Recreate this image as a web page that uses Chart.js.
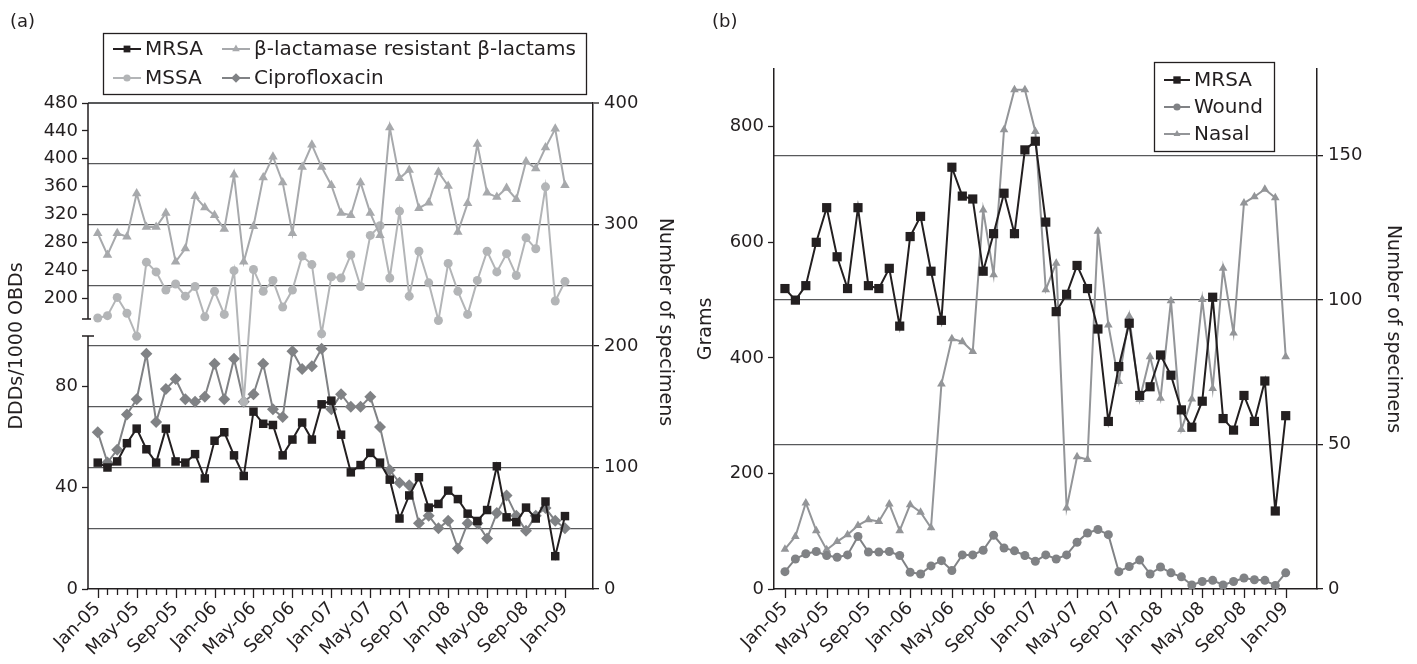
<!DOCTYPE html>
<html><head><meta charset="utf-8">
<script src="https://cdn.jsdelivr.net/npm/chart.js@4.4.1/dist/chart.umd.min.js"></script>
<style>
html,body{margin:0;padding:0;background:#fff;width:1417px;height:664px;overflow:hidden}
#ca{position:absolute;left:0;top:0}
#cb{position:absolute;left:692px;top:0}
</style></head><body>
<canvas id="ca" width="692" height="664"></canvas>
<canvas id="cb" width="725" height="664"></canvas>
<script>
// ---------- data ----------
const months = ['Jan-05','Feb-05','Mar-05','Apr-05','May-05','Jun-05','Jul-05','Aug-05','Sep-05','Oct-05','Nov-05','Dec-05',
  'Jan-06','Feb-06','Mar-06','Apr-06','May-06','Jun-06','Jul-06','Aug-06','Sep-06','Oct-06','Nov-06','Dec-06',
  'Jan-07','Feb-07','Mar-07','Apr-07','May-07','Jun-07','Jul-07','Aug-07','Sep-07','Oct-07','Nov-07','Dec-07',
  'Jan-08','Feb-08','Mar-08','Apr-08','May-08','Jun-08','Jul-08','Aug-08','Sep-08','Oct-08','Nov-08','Dec-08',
  'Jan-09'];

// Panel (a) — number of specimens (right axis)
const mrsa = [104,100,105,120,132,115,104,132,105,104,111,91,122,129,110,93,146,136,135,110,123,137,123,152,155,127,96,102,112,104,90,58,77,92,67,70,81,74,62,56,65,101,59,55,67,58,72,27,60];
const mssa = [223,225,240,227,208,269,261,246,251,241,249,224,245,226,262,154,263,245,254,232,246,274,267,210,257,256,275,249,291,299,256,311,241,278,252,221,268,245,226,254,278,261,276,258,289,280,331,237,253];
// Panel (a) — DDDs/1000 OBDs (left, broken axis)
const betaLactams = [293,262,293,288,350,302,302,322,252,271,346,330,319,299,377,252,303,373,403,366,293,388,420,388,362,322,319,366,322,290,445,372,384,329,337,381,361,295,336,421,351,345,358,342,396,386,416,443,362];
const ciprofloxacin = [62,50,55,69,75,93,66,79,83,75,74,76,89,75,91,74,77,89,71,68,94,87,88,95,71,77,72,72,76,64,47,42,41,26,29,24,27,16,26,26,20,30,37,29,23,29,32,27,24];
// Panel (b) — grams (left axis)
const wound = [30,52,61,65,58,55,59,91,64,64,65,58,29,26,40,49,32,59,59,67,93,71,66,58,48,59,52,59,81,97,103,94,30,39,50,26,38,28,21,7,13,15,7,13,19,16,15,6,28];
const nasal = [69,91,149,101,68,82,94,110,120,117,147,101,146,133,106,355,433,428,411,656,544,795,864,864,792,518,564,140,229,224,619,457,359,472,328,402,330,499,276,329,501,347,555,443,668,679,692,677,402];

// tick labels / axis values
const leftTicksA = [0,40,80,200,240,280,320,360,400,440,480];
const rightTicksA = [0,50,100,150,200,250,300,350,400];
const leftTicksB = [0,200,400,600,800];
const rightTicksB = [0,50,100,150];
// broken axis segments of panel (a): lower 0-100, upper 170-480
const BREAK_LOW_MAX = 100, BREAK_UP_MIN = 170, BREAK_UP_MAX = 480;

// ---------- custom broken linear scale ----------
const INK = '#231f20';
const FONT = "'DejaVu Sans', sans-serif";
Chart.defaults.font.family = FONT;
Chart.defaults.font.size = 18;
Chart.defaults.color = INK;

class BrokenLinearScale extends Chart.LinearScale {
  _geom() {
    const H = this.bottom - this.top;
    const lowH = H * 0.5206, gapH = H * 0.035;
    return {H, lowH, gapH, upH: H - lowH - gapH};
  }
  getPixelForValue(value) {
    const g = this._geom();
    if (value <= BREAK_LOW_MAX) return this.bottom - value / BREAK_LOW_MAX * g.lowH;
    return this.bottom - g.lowH - g.gapH - (value - BREAK_UP_MIN) / (BREAK_UP_MAX - BREAK_UP_MIN) * g.upH;
  }
  getValueForPixel(pixel) {
    const g = this._geom();
    const d = this.bottom - pixel;
    if (d <= g.lowH) return d / g.lowH * BREAK_LOW_MAX;
    return BREAK_UP_MIN + (d - g.lowH - g.gapH) / g.upH * (BREAK_UP_MAX - BREAK_UP_MIN);
  }
}
BrokenLinearScale.id = 'brokenLinear';
BrokenLinearScale.defaults = Chart.LinearScale.defaults;
Chart.register(BrokenLinearScale);

// ---------- plugins ----------
const decor = {
  id: 'decor',
  afterDraw(chart, args, o) {
    const ctx = chart.ctx;
    ctx.save();
    // panel label
    ctx.fillStyle = INK; ctx.font = "18px " + FONT;
    ctx.textBaseline = 'middle'; ctx.textAlign = 'left';
    ctx.fillText(o.panel.text, o.panel.x, o.panel.y);
    // extra rotated axis title (right side, reads top-to-bottom)
    if (o.rightTitle) {
      ctx.save();
      ctx.font = "19px " + FONT; ctx.textAlign = 'center';
      ctx.translate(o.rightTitle.x, o.rightTitle.y);
      ctx.rotate(Math.PI / 2);
      ctx.fillText(o.rightTitle.text, 0, 0);
      ctx.restore();
    }
    // x tick marks
    const sx = chart.scales.x;
    ctx.strokeStyle = INK; ctx.lineWidth = 1.3;
    sx.ticks.forEach(t => {
      const x = Math.round(sx.getPixelForValue(t.value)) + 0.5;
      const len = t.value % 4 === 0 ? 9 : 6;
      ctx.beginPath(); ctx.moveTo(x, sx.top); ctx.lineTo(x, sx.top + len); ctx.stroke();
    });
    // broken left axis
    if (o.broken) {
      const s = chart.scales.y;
      const x = s.right;
      const yTop = s.getPixelForValue(BREAK_UP_MAX);
      const yUpB = s.getPixelForValue(BREAK_UP_MIN);
      const yLowT = s.getPixelForValue(BREAK_LOW_MAX);
      const yBot = s.getPixelForValue(0);
      ctx.lineWidth = 1.5;
      ctx.beginPath();
      ctx.moveTo(x, yTop); ctx.lineTo(x, yUpB);
      ctx.moveTo(x, yLowT); ctx.lineTo(x, yBot);
      ctx.moveTo(x - 6, yUpB); ctx.lineTo(x + 3, yUpB);
      ctx.moveTo(x - 6, yLowT); ctx.lineTo(x + 6, yLowT);
      ctx.stroke();
    }
    // legend box
    const L = o.legend;
    ctx.lineWidth = 1.3; ctx.strokeStyle = INK;
    ctx.strokeRect(L.box[0] + 0.5, L.box[1] + 0.5, L.box[2] - L.box[0], L.box[3] - L.box[1]);
    ctx.font = "20px " + FONT;
    L.items.forEach(it => {
      const ds = chart.data.datasets[it.i];
      ctx.strokeStyle = ds.borderColor; ctx.lineWidth = ds.borderWidth;
      ctx.beginPath(); ctx.moveTo(it.x, it.y); ctx.lineTo(it.x + L.sample, it.y); ctx.stroke();
      ctx.fillStyle = ds.pointBackgroundColor;
      Chart.helpers.drawPoint(ctx, {pointStyle: ds.pointStyle, radius: ds.pointRadius * 0.8, rotation: 0, borderWidth: 0}, it.x + L.sample / 2, it.y);
      ctx.fillStyle = INK;
      ctx.fillText(ds.label, it.x + L.sample + 4, it.y + 1);
    });
    ctx.restore();
  }
};

// ---------- helpers ----------
const pts = arr => arr.map((v, i) => ({x: i, y: v}));
function series(label, arr, axis, color, style, r) {
  return {label, data: pts(arr), yAxisID: axis, borderColor: color, backgroundColor: color,
    pointBackgroundColor: color, pointBorderColor: color, pointStyle: style, pointRadius: r,
    pointBorderWidth: 0, borderWidth: 2, tension: 0, clip: false};
}
function xScale(min, max) {
  return {
    type: 'linear', min, max,
    afterBuildTicks: s => { s.ticks = months.map((m, i) => ({value: i})); },
    afterFit: s => { s.height = 75; },
    grid: {display: true, drawOnChartArea: false, drawTicks: true, tickLength: 9, tickColor: 'rgba(0,0,0,0)'},
    border: {display: true, color: INK, width: 1.5},
    ticks: {autoSkip: false, maxRotation: 45, minRotation: 45, padding: 0, color: INK, font: {size: 18},
      callback: v => (v % 4 === 0 ? months[v] : '')}
  };
}
const gridCol = c => (c.tick && c.tick.value === 0 ? 'rgba(0,0,0,0)' : '#58595b');

// ---------- panel (a) ----------
new Chart(document.getElementById('ca'), {
  type: 'line',
  data: {datasets: [
    series('MRSA', mrsa, 'y1', INK, 'rect', 6),
    series('\u03b2-lactamase resistant \u03b2-lactams', betaLactams, 'y', '#a7a9ac', 'triangle', 5.5),
    series('MSSA', mssa, 'y1', '#b3b5b7', 'circle', 4.5),
    series('Ciprofloxacin', ciprofloxacin, 'y', '#808285', 'rectRot', 6)
  ]},
  options: {
    responsive: false, animation: false, devicePixelRatio: 1,
    layout: {padding: {top: 103, left: 0, right: 13, bottom: 0}},
    plugins: {legend: {display: false}, tooltip: {enabled: false},
      decor: {panel: {text: '(a)', x: 10, y: 22}, broken: true,
        rightTitle: {text: 'Number of specimens', x: 665, y: 322},
        legend: {box: [103, 33, 586, 94], sample: 28,
          items: [{i: 0, x: 113, y: 49}, {i: 1, x: 222, y: 49}, {i: 2, x: 113, y: 78}, {i: 3, x: 222, y: 78}]}}},
    scales: {
      x: xScale(-1, 50.88),
      y: {type: 'brokenLinear', position: 'left', min: 0, max: 480,
        afterBuildTicks: s => { s.ticks = leftTicksA.map(v => ({value: v})); },
        afterFit: s => { s.width = 88; },
        grid: {drawOnChartArea: false, tickLength: 6, tickColor: INK, tickWidth: 1.3},
        border: {display: false},
        ticks: {padding: 4, color: INK},
        title: {display: true, text: 'DDDs/1000 OBDs', padding: {top: 6, bottom: 0}, color: INK, font: {size: 19}}},
      y1: {type: 'linear', position: 'right', min: 0, max: 400,
        afterBuildTicks: s => { s.ticks = rightTicksA.map(v => ({value: v})); },
        afterFit: s => { s.width = 86; },
        grid: {drawOnChartArea: true, color: gridCol, lineWidth: c => (c.tick && c.tick.value === 400 ? 2 : 1.3),
          tickLength: 6, tickWidth: 1.3, tickColor: c => (c.tick.value % 100 === 0 ? INK : 'rgba(0,0,0,0)')},
        border: {display: true, color: INK, width: 1.5},
        ticks: {padding: 5, color: INK, callback: v => (v % 100 === 0 ? v : '')},
        title: {display: false}}
    }
  },
  plugins: [decor]
});

// ---------- panel (b) ----------
new Chart(document.getElementById('cb'), {
  type: 'line',
  data: {datasets: [
    series('MRSA', mrsa, 'y1', INK, 'rect', 6.5),
    series('Wound', wound, 'y', '#808285', 'circle', 4.5),
    series('Nasal', nasal, 'y', '#939598', 'triangle', 5)
  ]},
  options: {
    responsive: false, animation: false, devicePixelRatio: 1,
    layout: {padding: {top: 69, left: 0, right: 10, bottom: 0}},
    plugins: {legend: {display: false}, tooltip: {enabled: false},
      decor: {panel: {text: '(b)', x: 20, y: 22}, broken: false,
        legend: {box: [462, 62, 582, 151], sample: 26,
          items: [{i: 0, x: 472, y: 80}, {i: 1, x: 472, y: 107}, {i: 2, x: 472, y: 134}]}}},
    scales: {
      x: xScale(-1.05, 51),
      y: {type: 'linear', position: 'left', min: 0, max: 900,
        afterBuildTicks: s => { s.ticks = leftTicksB.map(v => ({value: v})); },
        afterFit: s => { s.width = 82; },
        grid: {drawOnChartArea: false, tickLength: 6, tickColor: INK, tickWidth: 1.3},
        border: {display: true, color: INK, width: 1.5},
        ticks: {padding: 4, color: INK},
        title: {display: true, text: 'Grams', padding: {top: 3, bottom: 0}, color: INK, font: {size: 19}}},
      y1: {type: 'linear', position: 'right', min: 0, max: 180,
        afterBuildTicks: s => { s.ticks = rightTicksB.map(v => ({value: v})); },
        afterFit: s => { s.width = 90; },
        grid: {drawOnChartArea: true, color: gridCol, lineWidth: 1.3, tickLength: 6, tickWidth: 1.3, tickColor: INK},
        border: {display: true, color: INK, width: 1.5},
        ticks: {padding: 5, color: INK},
        title: {display: true, text: 'Number of specimens', padding: {top: 3, bottom: 0}, color: INK, font: {size: 19}}}
    }
  },
  plugins: [decor]
});
</script>
</body></html>
